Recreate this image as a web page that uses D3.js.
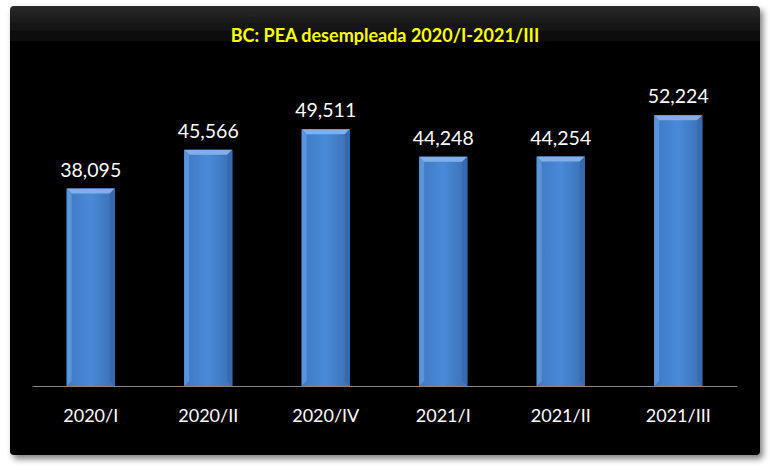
<!DOCTYPE html>
<html><head><meta charset="utf-8">
<script src="https://cdn.jsdelivr.net/npm/d3@7"></script>
<style>body{margin:0;background:#fff}</style></head>
<body><svg id="c" width="770" height="470"></svg>
<script>
const categories=["2020/I","2020/II","2020/IV","2021/I","2021/II","2021/III"];
const values=[38095,45566,49511,44248,44254,52224];
const title="BC: PEA desempleada 2020/I-2021/III";

const svg=d3.select("#c");
const defs=svg.append("defs");
const f=defs.append("filter").attr("id","sh").attr("x","-5%").attr("y","-5%").attr("width","110%").attr("height","115%");
f.append("feDropShadow").attr("dx",3).attr("dy",4).attr("stdDeviation",3).attr("flood-color","#000").attr("flood-opacity",0.5);
const g=defs.append("linearGradient").attr("id","bg").attr("x1",0).attr("x2",1);
g.append("stop").attr("offset","0").attr("stop-color","#3f78c2");
g.append("stop").attr("offset","0.5").attr("stop-color","#4a8ad8");
g.append("stop").attr("offset","1").attr("stop-color","#3a6fb5");
const fg=defs.append("linearGradient").attr("id","fr").attr("x1",0).attr("y1",0).attr("x2",0).attr("y2",1);
fg.append("stop").attr("offset","0").attr("stop-color","#2a2a2a");
fg.append("stop").attr("offset","0.08").attr("stop-color","#060606");
fg.append("stop").attr("offset","1").attr("stop-color","#060606");

svg.append("rect").attr("x",10).attr("y",6).attr("width",750).attr("height",449).attr("rx",4).attr("fill","url(#fr)").attr("filter","url(#sh)");

svg.append("text").attr("x",385).attr("y",42).attr("text-anchor","middle")
 .attr("font-family","Lato, 'Open Sans', sans-serif").attr("font-weight","bold").attr("font-size",18)
 .attr("fill","#ffff00").text(title);

const x=d3.scaleBand().domain(categories).range([32,737]).paddingInner(0.59).paddingOuter(0.295);
const y=d3.scaleLinear().domain([0,60000]).range([386,75]);

const bars=svg.append("g").selectAll("g").data(values).join("g");
bars.append("rect").attr("x",(d,i)=>x(categories[i])).attr("y",d=>y(d)).attr("width",x.bandwidth()).attr("height",d=>y(0)-y(d)).attr("fill","url(#bg)");
bars.append("path").attr("fill","#7fb0ec").attr("d",(d,i)=>{const x0=x(categories[i]),w=x.bandwidth(),t=y(d),b=5;
 return `M${x0},${t}L${x0+w},${t}L${x0+w-b},${t+b}L${x0+b},${t+b}Z`;});
bars.append("path").attr("fill","#356aad").attr("d",(d,i)=>{const x0=x(categories[i]),w=x.bandwidth(),t=y(d),b=5,bt=y(0);
 return `M${x0+w},${t}L${x0+w},${bt}L${x0+w-b},${bt-b}L${x0+w-b},${t+b}Z`;});
bars.append("path").attr("fill","#5a95dc").attr("d",(d,i)=>{const x0=x(categories[i]),t=y(d),b=5,bt=y(0);
 return `M${x0},${t}L${x0+b},${t+b}L${x0+b},${bt-b}L${x0},${bt}Z`;});
bars.append("text").attr("x",(d,i)=>x(categories[i])+x.bandwidth()/2).attr("y",d=>y(d)-12)
 .attr("text-anchor","middle").attr("fill","#fff").attr("font-family","Lato, 'Open Sans', sans-serif").attr("font-size",19.5)
 .text(d=>d3.format(",")(d));

const ax=svg.append("g").attr("transform",`translate(0,${y(0)})`).call(d3.axisBottom(x).tickSize(0).tickPadding(23));
ax.select(".domain").attr("stroke","#888");
ax.selectAll("text").attr("fill","#fff").attr("font-family","Lato, 'Open Sans', sans-serif").attr("font-size",18);
</script></body></html>
